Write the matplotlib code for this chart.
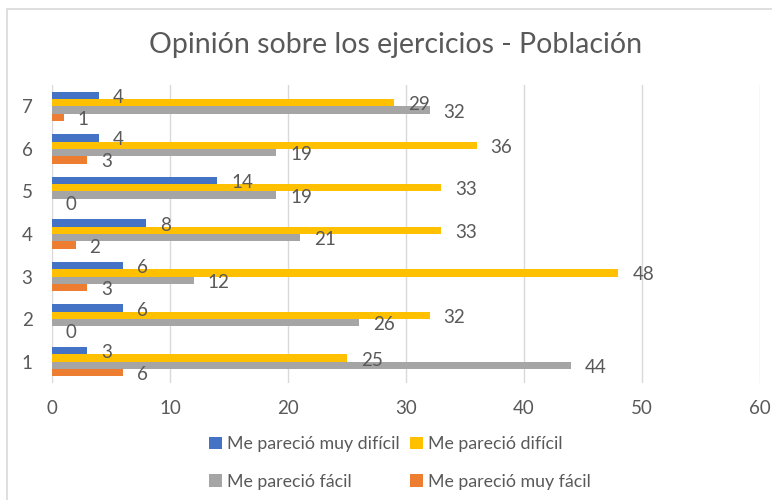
import numpy as np
import matplotlib.pyplot as plt
from matplotlib.patches import Rectangle

plt.rcParams['font.family'] = ['Lato', 'DejaVu Sans']

categories = ['1', '2', '3', '4', '5', '6', '7']
muy_dificil = [3, 6, 6, 8, 14, 4, 4]
dificil = [25, 32, 48, 33, 33, 36, 29]
facil = [44, 26, 12, 21, 19, 19, 32]
muy_facil = [6, 0, 3, 2, 0, 3, 1]
xticks = [0, 10, 20, 30, 40, 50, 60]

labels = ['Me pareció muy difícil', 'Me pareció difícil',
          'Me pareció fácil', 'Me pareció muy fácil']
colors = ['#4472C4', '#FFC000', '#A5A5A5', '#ED7D31']
series = [muy_dificil, dificil, facil, muy_facil]

txt = '#595959'
W, H = 772, 500
fig = plt.figure(figsize=(W / 100, H / 100), dpi=100)
ax = fig.add_axes([52 / W, 1 - 383 / H, (760 - 52) / W, (383 - 85) / H])

# chart area border
fig.patches.append(Rectangle((7 / W, -0.05), 1.0, 1 - 9 / H + 0.05,
                             transform=fig.transFigure, fill=False,
                             edgecolor='#d9d9d9', linewidth=1.2))

y = np.arange(len(categories)) + 1
bh = 0.172
offsets = [1.5 * bh, 0.5 * bh, -0.5 * bh, -1.5 * bh]
handles = []
for vals, off, col, lab in zip(series, offsets, colors, labels):
    b = ax.barh(y + off, vals, height=bh, color=col, label=lab, zorder=3)
    handles.append(b)
    for yy, v in zip(y + off, vals):
        ax.annotate(str(v), (v, yy), xytext=(10, -1.5), textcoords='offset points',
                    va='center', ha='left', fontsize=13.5, color=txt, zorder=10)

ax.set_xlim(0, 60)
ax.set_ylim(0.5, 7.5)
ax.set_xticks(xticks)
ax.set_yticks(y)
ax.set_yticklabels(categories)
ax.grid(axis='x', color='#d9d9d9', linewidth=1, zorder=0)
ax.tick_params(length=0, labelsize=13.5, labelcolor=txt)
ax.tick_params(axis='y', pad=14)
ax.tick_params(axis='x', pad=12)
for s in ax.spines.values():
    s.set_visible(False)

fig.text(396 / W, 1 - 45 / H, 'Opinión sobre los ejercicios - Población',
         ha='center', va='center', fontsize=20.5, color=txt)

order = [0, 2, 1, 3]
fig.legend([handles[i] for i in order], [labels[i] for i in order],
           ncol=2, loc='center', bbox_to_anchor=(400 / W, 1 - 463 / H),
           frameon=False, fontsize=12.8, labelcolor=txt, handlelength=0.7,
           handleheight=0.7, handletextpad=0.3, columnspacing=0.6,
           labelspacing=1.2)

fig.savefig('out.png', dpi=100)
